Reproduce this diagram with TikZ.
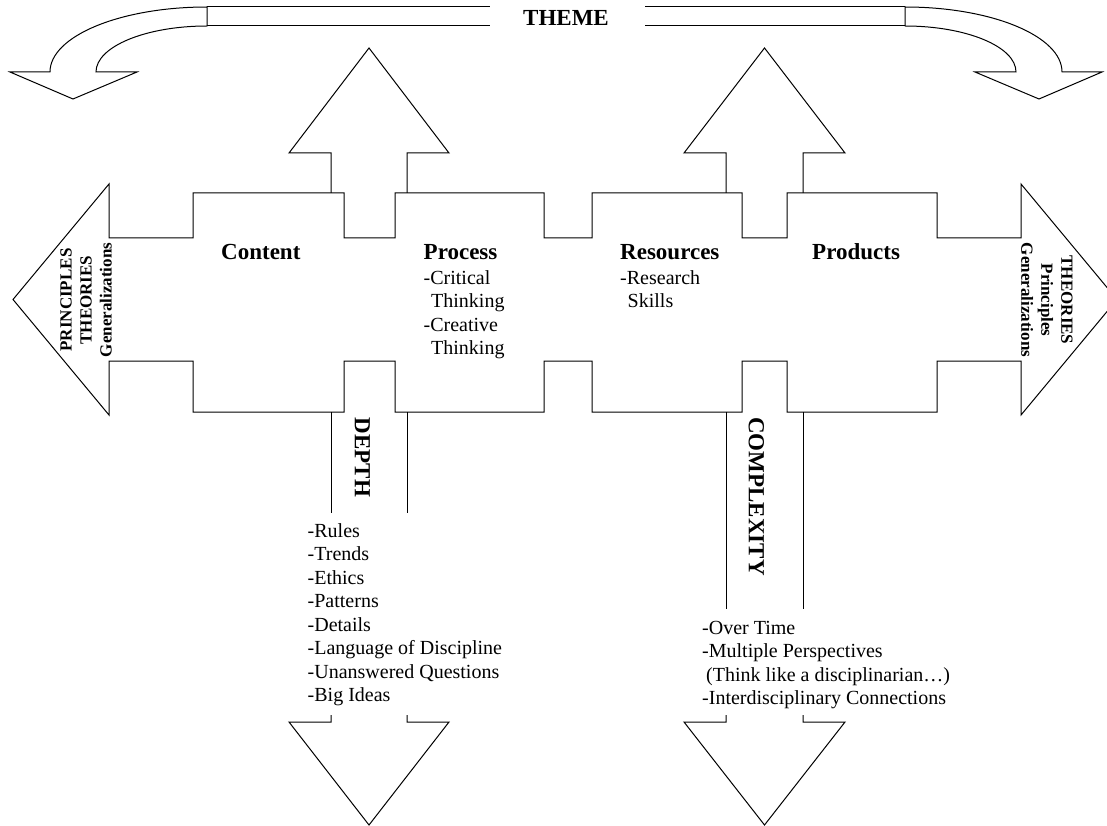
\documentclass[tikz,border=0pt]{standalone}
\usepackage{fontspec}
\setmainfont{Liberation Serif}
\begin{document}
\begin{tikzpicture}[x=1pt,y=-1pt,
  outline/.style={draw=black, line width=1pt, line join=miter},
  header/.style={font=\fontsize{23}{27}\selectfont\bfseries, inner sep=0pt, anchor=base west},
  item/.style={font=\fontsize{20}{23.5}\selectfont, inner sep=0pt, anchor=base west},
  sidelabel/.style={font=\fontsize{17}{20}\selectfont\bfseries, align=center, inner sep=0pt},
  axislabel/.style={font=\fontsize{23}{27}\selectfont\bfseries, inner sep=0pt}]
\useasboundingbox (0,0) rectangle (1107,826);
\clip (0,0) rectangle (1107,826);

% theme band across the top
\draw[outline] (207,7) -- (490,7) (207,26) -- (490,26)
               (645,7) -- (905,7) (645,26) -- (905,26);
\node[font=\fontsize{23}{27}\selectfont\bfseries, inner sep=0pt, anchor=base] (theme) at (566,26) {THEME};

% curved arrows at both ends of the band
\draw[outline] (207,7) .. controls (120.3,7) and (50,36.1) .. (50,72) -- (10,72) -- (73,99)
  -- (137,72) -- (96,72) .. controls (96,46.6) and (145.7,26) .. (207,26) -- cycle;
\draw[outline] (905,7) .. controls (991.7,7) and (1062,36.1) .. (1062,72) -- (1102,72) -- (1039,99)
  -- (975,72) -- (1016,72) .. controls (1016,46.6) and (966.3,26) .. (905,26) -- cycle;

% upward arrows
\draw[outline] (331,193) -- (331,153) -- (289,153) -- (369,48) -- (449,153) -- (407,153) -- (407,193);
\draw[outline] (726,193) -- (726,153) -- (684,153) -- (764.5,48) -- (845,153) -- (803,153) -- (803,193);

% downward arrows
\draw[outline] (331,412) -- (331,513) (407,412) -- (407,513);
\draw[outline] (331,715) -- (331,722) -- (289,722) -- (369,825) -- (449,722) -- (407,722) -- (407,715);
\draw[outline] (726,412) -- (726,609) (803,412) -- (803,609);
\draw[outline] (726,715) -- (726,722) -- (684,722) -- (764.5,825) -- (845,722) -- (803,722) -- (803,715);

% central double-headed arrow with notched edges
\draw[outline] (109,184) -- (109,238) -- (193,238) -- (193,193) -- (344,193) -- (344,238)
  -- (395,238) -- (395,193) -- (544,193) -- (544,238) -- (592,238) -- (592,193)
  -- (742,193) -- (742,238) -- (787,238) -- (787,193) -- (937,193) -- (937,238)
  -- (1021,238) -- (1021,184) -- (1117,299.5) -- (1021,415) -- (1021,361) -- (937,361)
  -- (937,412) -- (787,412) -- (787,361) -- (742,361) -- (742,412) -- (592,412)
  -- (592,361) -- (544,361) -- (544,412) -- (395,412) -- (395,361) -- (344,361)
  -- (344,412) -- (193,412) -- (193,361) -- (109,361) -- (109,415) -- (13,299.5) -- cycle;

% arrowhead labels
\node[sidelabel, rotate=90] (leftend) at (86,300) {PRINCIPLES\\THEORIES\\Generalizations};
\node[sidelabel, rotate=-90] (rightend) at (1047,300) {THEORIES\\Principles\\Generalizations};

% column headers
\node[header] (content) at (221,259.5) {Content};
\node[header] (process) at (423.5,259.5) {Process};
\node[header] (resources) at (620,259.5) {Resources};
\node[header] (products) at (812,259.5) {Products};

% process and resources entries
\node[item] (proc1) at (423.5,284.3) {-Critical};
\node[item] (proc2) at (423.5,307.8) {\hspace*{7.5pt}Thinking};
\node[item] (proc3) at (423.5,331.3) {-Creative};
\node[item] (proc4) at (423.5,354.8) {\hspace*{7.5pt}Thinking};
\node[item] (res1) at (620,284.3) {-Research};
\node[item] (res2) at (620,307.8) {\hspace*{7.5pt}Skills};

% vertical axis labels
\node[axislabel, rotate=-90] (depth) at (362.5,457.5) {DEPTH};
\node[axislabel, rotate=-90] (complexity) at (756.3,496.5) {COMPLEXITY};

% depth entries
\foreach \t [count=\i] in {{-Rules},{-Trends},{-Ethics},{-Patterns},{-Details},
    {-Language of Discipline},{-Unanswered Questions},{-Big Ideas}}
  \node[item] (depthitem\i) at (307.5,{537+23.5*(\i-1)}) {\t};

% complexity entries
\foreach \t [count=\i] in {{-Over Time},{-Multiple Perspectives},
    {\hspace*{4pt}(Think like a disciplinarian…)},{-Interdisciplinary Connections}}
  \node[item] (cplxitem\i) at (702,{634+23.5*(\i-1)}) {\t};
\end{tikzpicture}
\end{document}
